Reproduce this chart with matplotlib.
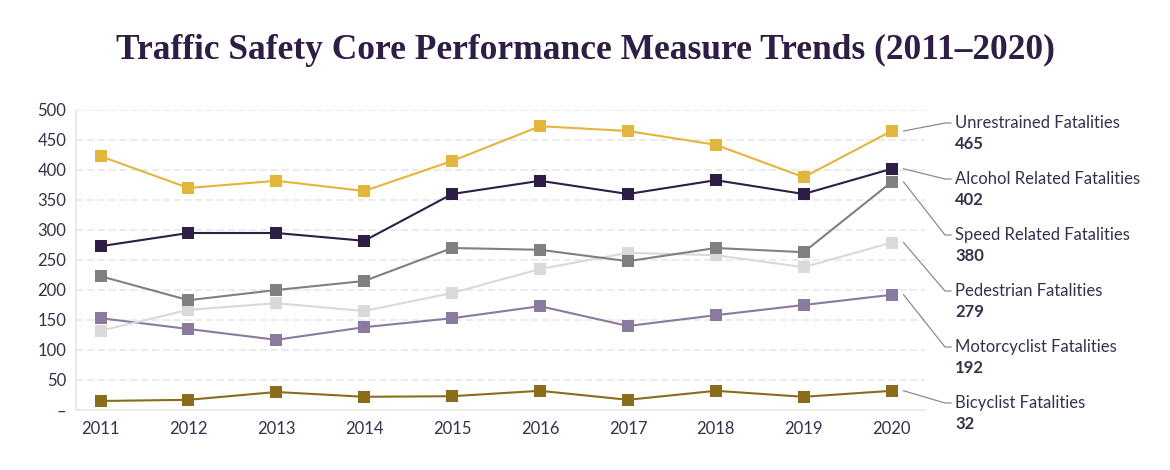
import matplotlib
matplotlib.use("Agg")
import matplotlib.pyplot as plt
from matplotlib.lines import Line2D

years = [2011, 2012, 2013, 2014, 2015, 2016, 2017, 2018, 2019, 2020]
unrestrained = [423, 370, 382, 365, 415, 473, 465, 442, 388, 465]
alcohol = [273, 295, 295, 282, 360, 382, 360, 383, 360, 402]
speed = [223, 183, 200, 215, 270, 267, 248, 270, 263, 380]
pedestrian = [132, 167, 178, 165, 195, 235, 262, 258, 238, 279]
motorcyclist = [153, 135, 117, 138, 153, 173, 140, 158, 175, 192]
bicyclist = [15, 17, 30, 22, 23, 32, 17, 32, 22, 32]

series_names = ["Unrestrained Fatalities", "Alcohol Related Fatalities",
                "Speed Related Fatalities", "Pedestrian Fatalities",
                "Motorcyclist Fatalities", "Bicyclist Fatalities"]
series_values = [unrestrained, alcohol, speed, pedestrian, motorcyclist, bicyclist]
series_colors = ["#e2b53c", "#2e1d44", "#808080", "#d9d9d9", "#8b7a9f", "#8a6c1b"]
yticks = [0, 50, 100, 150, 200, 250, 300, 350, 400, 450, 500]
ytick_labels = ["–", "50", "100", "150", "200", "250", "300", "350", "400", "450", "500"]

W, H = 1170, 470
fig = plt.figure(figsize=(W / 100, H / 100), dpi=100)
ax_left, ax_right, ax_bottom, ax_top = 76, 925, 410, 110
ax = fig.add_axes([ax_left / W, 1 - ax_bottom / H, (ax_right - ax_left) / W, (ax_bottom - ax_top) / H])
ax.set_xlim(2010.72, 2020.38)
ax.set_ylim(0, 500)

for v in yticks[1:]:
    ax.axhline(v, color="#e9e9e9", lw=1.3, ls=(0, (4, 2)), zorder=0)

draw_order = [5, 4, 3, 2, 1, 0]
for i in draw_order:
    ax.plot(years, series_values[i], color=series_colors[i], lw=1.5,
            marker="s", markersize=8.5, markeredgewidth=0, zorder=3)

text_color = "#3a2f4a"
ax.set_yticks(yticks)
ax.set_yticklabels(ytick_labels, fontsize=12, color=text_color, family="Lato")
ax.set_xticks(years)
ax.set_xticklabels([str(y) for y in years], fontsize=12, color=text_color, family="Lato")
ax.tick_params(length=0, pad=8)
ax.tick_params(axis="y", pad=7)
for s in ["top", "right"]:
    ax.spines[s].set_visible(False)
for s in ["left", "bottom"]:
    ax.spines[s].set_color("#e6e6e6")
    ax.spines[s].set_linewidth(1.2)

fig.suptitle("Traffic Safety Core Performance Measure Trends (2011–2020)",
             x=0.5, y=1 - 50 / H, va="center", fontsize=25.5, fontweight="bold",
             family="Liberation Serif", color="#2e1d44")

# right-hand labels with connectors
fig.canvas.draw()
label_y0, label_step = 123, 56
for k, (name, vals, col) in enumerate(zip(series_names, series_values, series_colors)):
    ly = label_y0 + k * label_step
    px, py = ax.transData.transform((years[-1], vals[-1]))
    py_top = H - py
    xs = [px + 12, 945, 951]
    ys = [py_top, ly, ly]
    fig.add_artist(Line2D([x / W for x in xs], [1 - y / H for y in ys],
                          transform=fig.transFigure, color="#8c8c8c", lw=0.9))
    fig.text(955 / W, 1 - ly / H, name, fontsize=12, color=text_color,
             family="Lato", va="center", ha="left")
    fig.text(955 / W, 1 - (ly + 21) / H, str(vals[-1]), fontsize=12, color=text_color,
             family="Lato", fontweight="bold", va="center", ha="left")

fig.savefig("out.png", dpi=100, facecolor="white")
